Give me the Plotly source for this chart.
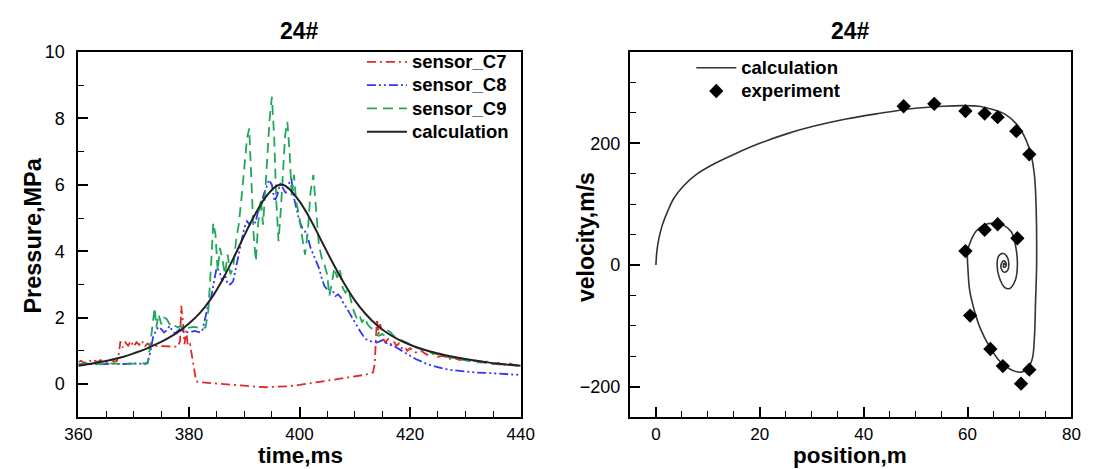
import plotly.graph_objects as go

# ---------------- Left panel: pressure vs time ----------------
calc_t = [360, 362, 364, 366, 368, 370, 372, 374, 376, 378, 380, 382, 384, 386, 388, 390, 392, 394,
          396, 397, 398, 400, 402, 404, 406, 408, 410, 412, 414, 416, 418, 420, 422, 424, 426, 428,
          430, 432, 434, 436, 438, 440]
calc_p = [0.55, 0.60, 0.66, 0.73, 0.81, 0.92, 1.04, 1.19, 1.36, 1.56, 1.82, 2.14, 2.57, 3.12, 3.77,
          4.47, 5.12, 5.66, 5.98, 6.00, 5.90, 5.50, 4.95, 4.30, 3.65, 3.05, 2.52, 2.10, 1.77, 1.52,
          1.33, 1.18, 1.06, 0.96, 0.88, 0.81, 0.75, 0.70, 0.65, 0.61, 0.58, 0.55]

c7_t = [360, 360.5, 361, 361.5, 362, 362.5, 363, 363.5, 364, 364.5, 365, 365.5, 366, 366.5, 367,
        367.3, 367.6, 368, 368.5, 369, 369.5, 370, 370.5, 371, 371.5, 372, 372.5, 373, 374, 375,
        376, 377, 378, 378.4, 378.6, 378.9, 379.2, 379.5, 379.8, 380.2, 380.6, 381, 381.3, 382,
        384, 386, 388, 390, 392, 394, 396, 398, 400, 402, 404, 406, 408, 410, 412, 413.3, 413.6,
        413.8, 414, 414.3, 414.6, 415, 415.5, 416, 416.5, 417, 417.5, 418, 418.5, 419, 419.5, 420,
        421, 422, 423, 424, 425, 426, 427, 428, 429, 430, 431, 432, 433, 434, 435, 436, 437, 438,
        439, 440]
c7_p = [0.66, 0.70, 0.63, 0.68, 0.72, 0.65, 0.70, 0.66, 0.72, 0.68, 0.64, 0.70, 0.73, 0.67, 0.70,
        0.90, 1.28, 1.10, 1.25, 1.15, 1.30, 1.12, 1.26, 1.18, 1.30, 1.12, 1.22, 1.15, 1.14, 1.15,
        1.13, 1.12, 1.12, 1.30, 2.35, 1.90, 1.20, 1.60, 1.15, 1.20, 0.80, 0.40, 0.08, 0.05,
        0.03, 0.00, -0.02, -0.05, -0.08, -0.10, -0.08, -0.07, -0.03, 0.02, 0.08, 0.14, 0.18, 0.22,
        0.28, 0.35, 0.60, 1.30, 1.95, 1.50, 1.80, 1.40, 1.25, 1.35, 1.20, 1.30, 1.15, 1.22, 1.08,
        1.12, 1.00, 1.08, 0.95, 1.00, 0.88, 0.92, 0.82, 0.85, 0.75, 0.78, 0.72, 0.76, 0.68, 0.70,
        0.64, 0.68, 0.60, 0.63, 0.58, 0.62, 0.56, 0.58]

c8_t = [360, 362, 364, 366, 368, 370, 372, 372.5, 373, 373.5, 374, 374.5, 375, 375.5, 376, 376.5,
        377, 377.5, 378, 378.5, 379, 380, 381, 382, 382.5, 383, 383.5, 384, 384.5, 385, 385.5, 386,
        386.5, 387, 387.5, 388, 388.5, 389, 389.5, 390, 390.5, 391, 391.5, 392, 392.5, 393, 393.5,
        394, 394.5, 395, 395.5, 396, 396.5, 397, 397.5, 398, 398.5, 399, 399.5, 400, 400.5, 401,
        401.5, 402, 402.5, 403, 403.5, 404, 404.5, 405, 405.5, 406, 406.5, 407, 407.5, 408, 408.5,
        409, 409.5, 410, 410.5, 411, 411.5, 412, 413, 414, 415, 415.5, 416, 417, 418, 419, 420,
        421, 422, 423, 424, 425, 426, 427, 428, 430, 432, 434, 436, 438, 440]
c8_p = [0.58, 0.60, 0.59, 0.61, 0.60, 0.62, 0.60, 0.62, 0.95, 1.40, 1.60, 1.72, 1.65, 1.55, 1.62,
        1.75, 1.60, 1.52, 1.60, 1.68, 1.58, 1.55, 1.60, 1.55, 1.65, 2.00, 2.40, 2.60, 3.00, 3.50,
        3.40, 3.10, 3.30, 3.00, 3.00, 3.10, 3.50, 3.90, 4.30, 4.70, 4.90, 4.80, 5.00, 4.85, 5.20,
        5.30, 5.70, 5.95, 6.15, 6.00, 5.50, 5.70, 6.05, 5.90, 5.75, 6.00, 6.20, 5.60, 5.20, 4.90,
        4.70, 4.60, 4.40, 4.10, 3.90, 3.70, 3.50, 3.20, 2.95, 2.85, 2.75, 2.80, 2.65, 2.70, 2.60,
        2.40, 2.30, 2.15, 2.00, 1.85, 1.70, 1.58, 1.45, 1.35, 1.28, 1.25, 1.32, 1.25, 1.20, 1.15,
        1.05, 0.95, 0.85, 0.75, 0.68, 0.60, 0.55, 0.50, 0.46, 0.43, 0.41, 0.37, 0.34, 0.33, 0.31,
        0.29, 0.27]

c9_t = [360, 362, 364, 366, 368, 370, 372, 372.6, 373, 373.5, 373.8, 374.1, 374.5, 375, 375.5, 376,
        376.5, 377, 377.5, 378, 378.5, 379, 380, 381, 382, 383, 383.5, 384, 384.4, 384.8, 385.2,
        385.6, 386, 386.5, 387, 387.5, 388, 388.5, 389, 389.5, 390, 390.5, 390.9, 391.3, 391.7,
        392.1, 392.5, 393, 393.4, 393.8, 394.2, 394.6, 395, 395.4, 395.8, 396.2, 396.6, 397, 397.4,
        397.8, 398.2, 398.6, 399, 399.4, 400, 400.5, 401, 401.5, 402, 402.5, 403, 403.5, 404, 404.5,
        405, 405.4, 405.8, 406.3, 406.8, 407.3, 407.8, 408.3, 408.8, 409.3, 409.8, 410.3, 410.8,
        411.3, 411.8, 412.3, 412.8, 413.3, 413.8, 414.3, 415, 415.5, 416, 416.5, 417, 418, 419, 420,
        421, 422, 423, 424, 425, 426, 427, 428, 429, 430, 431, 432, 433, 434, 435, 436, 437, 438,
        439, 440]
c9_p = [0.60, 0.62, 0.60, 0.62, 0.60, 0.61, 0.62, 0.65, 1.20, 1.90, 2.30, 1.70, 2.10, 1.80, 2.00,
        1.95, 1.80, 1.85, 1.75, 1.70, 1.75, 1.65, 1.70, 1.72, 1.68, 1.70, 2.20, 3.60, 4.85, 4.50,
        3.40, 4.10, 3.80, 3.30, 3.90, 3.30, 3.50, 4.30, 4.80, 5.60, 6.50, 7.40, 7.70, 6.00, 4.50,
        3.70, 4.80, 5.60, 4.80, 5.80, 7.00, 8.00, 8.65, 7.50, 5.50, 4.30, 5.20, 6.50, 7.50, 7.90,
        7.00, 5.60, 6.30, 5.50, 5.00, 4.40, 3.90, 4.60, 5.80, 6.30, 5.20, 4.20, 3.80, 3.60, 3.30,
        2.65, 3.00, 3.50, 3.20, 3.45, 2.90, 2.75, 2.85, 2.50, 2.20, 2.00, 2.10, 1.85, 2.00, 1.80,
        1.70, 1.65, 1.55, 1.45, 1.50, 1.45, 1.60, 1.55, 1.45, 1.35, 1.28, 1.18, 1.10, 1.05, 0.98,
        0.93, 0.90, 0.85, 0.80, 0.78, 0.74, 0.70, 0.68, 0.65, 0.66, 0.62, 0.60, 0.60, 0.58, 0.57,
        0.56, 0.55]

# ---------------- Right panel: velocity vs position ----------------
calc_pos = [0, 0.19, 0.6, 1.25, 2.2, 3.4, 5.3, 7.8, 11.6, 15.3, 20, 25.3, 30.3, 36.6, 42.8, 49.1,
            55.3, 59.1, 62.2, 64.7, 67.2, 69.4, 71.3, 72.3, 72.9, 73.2, 73.3, 73.1, 72.9, 72.5, 71.6,
            70.3, 68.4, 66.3, 64.1, 62.5, 61.26, 60.4, 60.1, 60.0, 60.6, 61.6, 63.0, 64.9, 66.8,
            68.4, 69.2, 69.6, 69.2, 68.1, 67.2, 66.1, 65.7, 66.0, 66.9, 67.7, 67.95, 67.7, 67.1,
            66.5, 66.5, 67.0, 67.45, 67.3, 67.0, 66.9, 67.1, 67.2]
calc_vel = [0, 23, 44.5, 66, 87, 109, 130, 149, 168, 183, 200, 216, 228, 240, 249, 257, 261, 262,
            261, 256, 248, 232, 205, 179, 146, 98, 0, -60, -116, -153, -170, -176, -172, -159, -132,
            -105, -73, -41, -9, 23, 39, 55, 65, 69, 66, 55, 34, 0, -25, -38.5, -37, -20, 0, 15, 19,
            12.3, 0, -9, -11.8, -6, 1.6, 7, 2.7, -2.7, -3.7, 0, 2.7, 0]

exp_pos = [47.7, 53.6, 59.6, 63.3, 65.8, 69.4, 71.9, 59.6, 63.3, 65.8, 69.6, 60.5, 64.4, 66.8, 71.9, 70.3]
exp_vel = [261, 265, 253, 249, 243, 220, 182, 23, 58, 67, 44, -83, -138, -166, -172, -195]

FONT = "Liberation Sans, Arial, sans-serif"
LEG = "<span style='font-size:18.5px'><b>{}</b></span>"
W, H = 1099, 469

fig = go.Figure()
fig.add_trace(go.Scatter(x=c7_t, y=c7_p, mode="lines", name=LEG.format("sensor_C7"),
                         line=dict(color="#dd2a2a", width=1.8, dash="9px,4px,2px,4px"),
                         xaxis="x", yaxis="y", legend="legend"))
fig.add_trace(go.Scatter(x=c8_t, y=c8_p, mode="lines", name=LEG.format("sensor_C8"),
                         line=dict(color="#3535f5", width=1.8, dash="9px,3px,2px,3px,2px,3px"),
                         xaxis="x", yaxis="y", legend="legend"))
fig.add_trace(go.Scatter(x=c9_t, y=c9_p, mode="lines", name=LEG.format("sensor_C9"),
                         line=dict(color="#1fa85a", width=1.8, dash="10px,6px"),
                         xaxis="x", yaxis="y", legend="legend"))
fig.add_trace(go.Scatter(x=calc_t, y=calc_p, mode="lines", name=LEG.format("calculation"),
                         line=dict(color="#222222", width=2, shape="spline"),
                         xaxis="x", yaxis="y", legend="legend"))

fig.add_trace(go.Scatter(x=calc_pos, y=calc_vel, mode="lines", name=LEG.format("calculation"),
                         line=dict(color="#333333", width=1.6, shape="spline", smoothing=0.9),
                         xaxis="x2", yaxis="y2", legend="legend2"))
fig.add_trace(go.Scatter(x=exp_pos, y=exp_vel, mode="markers", name=LEG.format("experiment"),
                         marker=dict(symbol="diamond", size=11, color="black"),
                         xaxis="x2", yaxis="y2", legend="legend2"))

ax_common = dict(showline=True, linewidth=2, linecolor="black", mirror=True,
                 ticks="inside", ticklen=10, tickwidth=1.5, tickcolor="black",
                 showgrid=False, zeroline=False)
yfont = dict(family=FONT, size=18, color="black")
xfont = dict(family=FONT, size=17, color="black")
minor_common = dict(ticks="inside", ticklen=6, tickwidth=1.2, tickcolor="black")


def title_ann(text, x_px, y_px, angle=0, size=23.5, yanchor="middle"):
    return dict(text="<b>%s</b>" % text, x=x_px / W, y=1 - y_px / H, xref="paper", yref="paper",
                xanchor="center", yanchor=yanchor, showarrow=False, textangle=angle,
                borderpad=0, font=dict(size=size, family=FONT, color="black"))


fig.update_layout(
    width=W, height=H,
    margin=dict(l=0, r=0, t=0, b=0),
    paper_bgcolor="white", plot_bgcolor="white",
    font=dict(family=FONT, color="black"),
    xaxis=dict(domain=[0.0601, 0.4731], range=[360, 440], dtick=20, anchor="y",
               minor=dict(dtick=5, **minor_common), ticklabelstandoff=0, tickfont=xfont,
               **ax_common),
    yaxis=dict(domain=[0.113, 0.9083], range=[-1, 10], dtick=2, anchor="x",
               minor=dict(dtick=1, **minor_common), ticklabelstandoff=8, tickfont=yfont,
               **ax_common),
    xaxis2=dict(domain=[0.5751, 0.9873], range=[-5, 80], dtick=20, anchor="y2",
                minor=dict(dtick=5, **minor_common), ticklabelstandoff=0, tickfont=xfont,
                **ax_common),
    yaxis2=dict(domain=[0.113, 0.9083], range=[-250, 350], dtick=200, anchor="x2",
                minor=dict(dtick=50, **minor_common), ticklabelstandoff=4, tickfont=yfont,
                **ax_common),
    legend=dict(x=357 / W, y=1 - 36 / H, xanchor="left", yanchor="top",
                bgcolor="rgba(0,0,0,0)", font=dict(size=15.6, family=FONT, color="black"),
                tracegroupgap=0, itemwidth=40),
    legend2=dict(x=695 / W, y=1 - 42 / H, xanchor="left", yanchor="top",
                 bgcolor="rgba(0,0,0,0)", font=dict(size=15.6, family=FONT, color="black"),
                 itemwidth=40),
    annotations=[
        title_ann("24#", 293, 21, size=23),
        title_ann("24#", 858.5, 21, size=23),
        title_ann("time,ms", 294, 469, size=22.5, yanchor="bottom"),
        title_ann("Pressure,MPa", 20, 230, angle=-90),
        title_ann("position,m", 858, 469, size=22.5, yanchor="bottom"),
        title_ann("velocity,m/s", 587, 232, angle=-90, size=23),
    ],
)

fig.write_html("out.html")
